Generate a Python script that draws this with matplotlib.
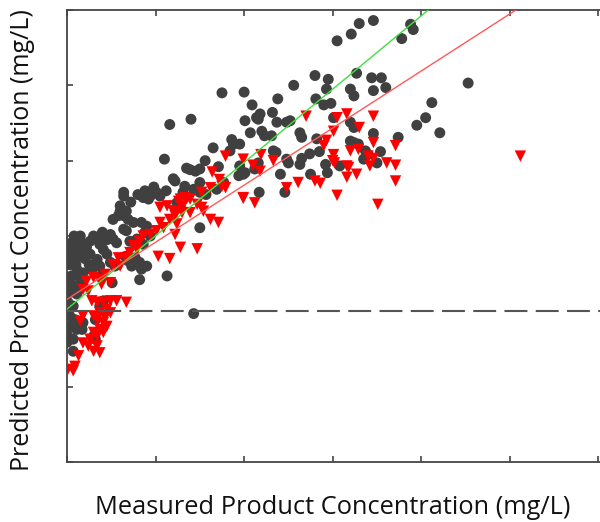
import numpy as np
import matplotlib
matplotlib.use('Agg')
import matplotlib.pyplot as plt

# measured vs predicted, arbitrary units (axes carry no tick labels)
gray_x = [3.46, 3.30, 3.21, 3.05, 3.88, 3.91, 3.78, 2.80, 2.95, 3.27, 3.44, 3.55, 2.56, 2.00,
          2.93, 3.20, 3.24, 3.46, 3.60, 2.38, 2.81, 2.09, 2.90, 2.98, 4.12, 2.18, 2.16, 2.14,
          2.01, 2.32, 2.37, 2.48, 2.52, 3.01, 3.20, 3.24, 4.05, 3.95, 4.21, 2.07, 2.20, 2.23,
          2.31, 2.63, 2.65, 2.82, 3.46, 3.74, 3.20, 3.24, 3.29, 3.37, 3.40, 3.54, 2.33, 2.36,
          2.48, 2.50, 2.65, 2.63, 2.74, 2.85, 2.92, 2.94, 3.08, 3.35, 3.50, 2.16, 2.12, 2.01,
          2.41, 2.75, 2.17, 2.46, 1.95, 4.53, 1.75, 1.40, 1.16, 1.65, 1.86, 1.88, 1.84, 1.56,
          1.71, 1.35, 1.39, 1.45, 1.50, 1.20, 1.22, 1.33, 1.31, 1.50, 1.24, 1.28, 1.50, 1.94,
          1.95, 1.99, 1.10, 0.64, 0.64, 0.88, 0.94, 1.01, 1.05, 0.86, 0.92, 0.60, 0.67, 0.58,
          0.64, 0.52, 0.69, 0.75, 0.64, 0.67, 0.84, 0.90, 0.88, 0.94, 0.79, 0.86, 0.71, 0.49,
          0.52, 0.56, 0.30, 0.34, 0.37, 0.26, 0.15, 0.18, 0.22, 0.11, 0.07, 0.13, 0.18, 0.26,
          0.41, 0.45, 0.34, 0.30, 0.37, 0.49, 0.54, 0.07, 0.11, 0.05, 0.13, 0.18, 0.03, 0.09,
          0.15, 0.03, 0.11, 0.66, 0.69, 0.73, 0.77, 0.82, 0.84, 0.90, 0.82, 1.13, 0.51, 0.01,
          0.07, 0.03, 0.03, 0.09, 0.03, 0.11, 0.01, 0.07, 0.17, 0.18, 0.07, 0.30, 0.32, 0.41,
          0.37, 0.00, 0.00, 0.32, 1.43, 0.03, 0.03, 1.43, 1.50, 1.57, 1.69, 1.77,
          0.05, 0.10, 0.20, 0.25, 0.03, 0.08, 0.20, 0.28, 0.40, 0.40, 0.45, 0.60, 0.72, 0.80,
          0.98, 1.12, 0.15, 0.02, 0.12]
gray_y = [3.86, 3.82, 3.68, 3.59, 3.81, 3.74, 3.62, 3.13, 3.08, 3.16, 3.10, 3.10, 3.00, 2.91,
          2.95, 2.95, 2.86, 2.93, 2.97, 2.82, 2.82, 2.74, 2.74, 2.76, 2.77, 2.62, 2.55, 2.57,
          2.53, 2.64, 2.51, 2.51, 2.53, 2.57, 2.51, 2.44, 2.57, 2.47, 2.37, 2.37, 2.39, 2.33,
          2.33, 2.37, 2.31, 2.29, 2.36, 2.31, 2.26, 2.24, 2.22, 2.13, 2.08, 2.12, 2.13, 2.11,
          2.02, 1.97, 2.03, 1.95, 2.09, 2.12, 1.95, 1.84, 1.93, 2.02, 1.97, 1.97, 1.89, 1.84,
          1.82, 1.82, 1.58, 1.58, 2.22, 3.03, 2.90, 2.55, 2.48, 2.17, 2.28, 2.22, 2.13, 2.00,
          1.92, 1.90, 1.88, 1.86, 1.89, 1.76, 1.73, 1.66, 1.58, 1.71, 1.44, 1.40, 1.11, 1.80,
          1.93, 1.82, 2.02, 1.58, 1.53, 1.60, 1.53, 1.58, 1.53, 1.51, 1.49, 1.33, 1.33, 1.27,
          1.27, 1.22, 1.22, 1.18, 1.09, 1.07, 1.18, 1.13, 1.05, 1.00, 0.96, 0.89, 0.93, 1.02,
          0.96, 0.91, 1.00, 0.96, 0.89, 0.93, 0.93, 0.89, 0.85, 0.87, 0.78, 0.73, 0.76, 0.76,
          0.82, 0.76, 0.69, 0.62, 0.60, 0.65, 0.60, 0.65, 0.56, 0.47, 0.47, 0.51, 0.38, 0.34,
          0.36, 0.25, 0.23, 0.73, 0.67, 0.60, 0.71, 0.65, 0.56, 0.60, 0.42, 0.47, 0.38, 0.12,
          0.07, 0.03, -0.06, -0.11, -0.20, -0.24, -0.33, -0.37, -0.24, -0.15, -0.53, -0.33, -0.11, 0.14,
          0.07, -0.24, -0.41, -0.37, -0.03, 0.62, 0.82, 1.62, 1.58, 1.55, 1.62, 1.71,
          0.70, 0.62, 0.70, 0.62, 0.90, 1.00, 0.82, 0.55, 0.50, 1.05, 0.95, 1.40, 1.45, 1.55,
          1.65, 1.60, 1.00, 0.45, 0.30]

red_x = [2.70, 3.05, 3.16, 3.46, 3.30, 3.01, 2.93, 2.90, 3.46, 3.71, 3.20, 3.29, 3.01, 3.00,
         3.02, 3.40, 3.46, 3.42, 3.61, 3.71, 3.16, 3.18, 3.16, 3.27, 3.71, 2.19, 2.18, 2.33,
         1.99, 2.10, 2.80, 2.86, 2.61, 2.48, 3.05, 1.99, 2.12, 3.51, 5.12, 1.79, 1.64, 1.72,
         1.79, 1.75, 1.62, 1.52, 1.99, 1.28, 1.33, 1.39, 1.47, 1.52, 1.54, 1.22, 1.30, 1.39,
         1.62, 1.71, 1.24, 1.22, 1.28, 1.47, 1.05, 1.13, 1.20, 1.26, 1.30, 1.35, 1.22, 1.16,
         1.05, 1.09, 1.01, 0.94, 0.86, 0.82, 0.75, 0.79, 1.03, 1.16, 0.71, 0.66, 0.58, 0.52,
         0.60, 0.43, 0.37, 0.30, 0.22, 0.49, 0.39, 0.18, 0.24, 0.67, 0.56, 0.49, 0.41, 0.34,
         0.28, 0.45, 0.49, 0.37, 0.30, 0.34, 0.41, 0.45, 0.37, 0.30, 0.26, 0.34, 0.41, 0.43,
         0.18, 0.24, 0.30, 0.37, 0.34, 0.13, 0.01, 0.07, 0.09, 0.18, 0.15]
red_y = [2.59, 2.57, 2.62, 2.59, 2.44, 2.39, 2.27, 2.20, 2.24, 2.20, 2.13, 2.15, 2.08, 2.00,
         1.97, 2.06, 2.03, 1.93, 1.97, 1.94, 1.93, 1.91, 1.78, 1.82, 1.73, 2.08, 1.86, 2.00,
         2.02, 1.94, 1.73, 1.70, 1.71, 1.64, 1.54, 1.50, 1.44, 1.42, 2.06, 2.06, 1.85, 1.75,
         1.64, 1.66, 1.64, 1.58, 1.51, 1.49, 1.51, 1.49, 1.42, 1.38, 1.33, 1.33, 1.31, 1.31,
         1.22, 1.18, 1.16, 1.02, 0.85, 0.83, 1.38, 1.40, 1.33, 1.46, 1.40, 1.49, 1.27, 1.22,
         1.18, 1.11, 1.07, 1.02, 1.00, 0.93, 0.87, 0.82, 0.73, 0.70, 0.78, 0.71, 0.71, 0.62,
         0.60, 0.49, 0.42, 0.45, 0.40, 0.38, 0.36, 0.29, 0.27, 0.12, 0.14, 0.14, 0.12, 0.12,
         0.14, 0.03, -0.02, -0.02, -0.06, -0.11, -0.15, -0.20, -0.24, -0.28, -0.37, -0.33, -0.28, -0.08,
         -0.42, -0.46, -0.53, -0.55, -0.46, -0.59, -0.77, -0.79, -0.73, -0.06, -0.13]

# fitted lines (end points)
green_x = [0.0, 4.08]
green_y = [0.03, 4.0]
red_line_x = [0.0, 5.07]
red_line_y = [0.16, 4.0]

fig = plt.figure(figsize=(6, 5.22), dpi=100)
ax = fig.add_axes([0.1117, 0.1149, 0.915, 0.866])

ax.scatter(gray_x, gray_y, s=62, marker='o', color='#404040', edgecolors='none', zorder=2)
ax.scatter(red_x, red_y, s=68, marker='v', color='#ff0000', edgecolors='none', zorder=3)
ax.plot(green_x, green_y, color='#40e040', lw=1.0, zorder=4)
ax.plot(red_line_x, red_line_y, color='#ff5a5a', lw=1.0, zorder=4)
ax.axhline(0, color='#555555', lw=1.5, dashes=(11, 4), zorder=4)

ax.set_xlim(0, 6.2)
ax.set_ylim(-2, 4)
ax.set_xticks(np.arange(0, 7))
ax.set_yticks(np.arange(-2, 5))
ax.set_xticklabels([])
ax.set_yticklabels([])
ax.tick_params(direction='in', length=4, width=1.2, color='#444444', top=True)
for sp in ax.spines.values():
    sp.set_color('#444444')
    sp.set_linewidth(1.3)

fig.text(0.555, 0.027, 'Measured Product Concentration (mg/L)', ha='center', va='center',
         fontsize=18.3, family='Open Sans', color='#111111')
fig.text(0.037, 0.54, 'Predicted Product Concentration (mg/L)', ha='center', va='center',
         rotation=90, fontsize=18, family='Open Sans', color='#111111')

fig.savefig('out.png', dpi=100)
